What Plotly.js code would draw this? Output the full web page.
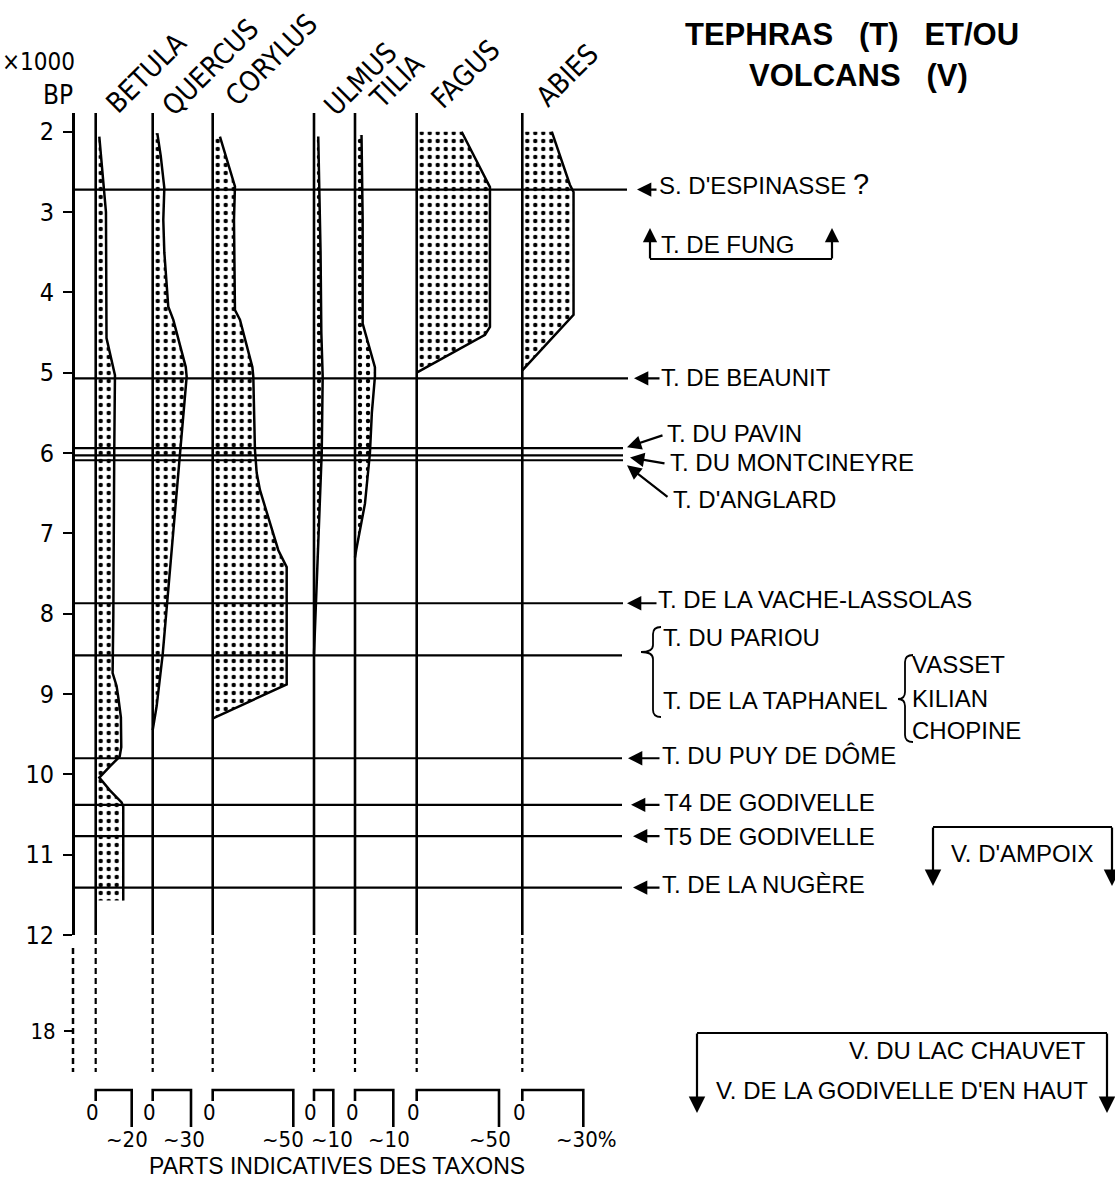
<!DOCTYPE html>
<html><head><meta charset="utf-8">
<script src="https://cdn.plot.ly/plotly-3.0.1.min.js"></script>
<style>html,body{margin:0;padding:0;background:#fff}</style>
</head><body><div id="chart" style="width:1115px;height:1188px"></div>
<script>
// ---------------- DATA ----------------
const ageTicks = [2, 3, 4, 5, 6, 7, 8, 9, 10, 11, 12];
const breakTick = [18];
const taxa = ['BETULA', 'QUERCUS', 'CORYLUS', 'ULMUS', 'TILIA', 'FAGUS', 'ABIES'];
const scaleMax = [20, 30, 50, 10, 10, 50, 30];
const scaleLabels = ['~20', '~30', '~50', '~10', '~10', '~50', '~30%'];

const betulaAge = [2.06, 2.7, 3.0, 4.57, 5.03, 6.0, 7.0, 8.0, 8.74, 8.9, 9.05, 9.29, 9.66, 9.78, 9.9, 10.04, 10.2, 10.35, 10.4, 11.57];
const betulaPct = [2.0, 4.8, 5.7, 6.0, 10.7, 10.3, 10.2, 9.8, 9.4, 11.6, 12.6, 14.0, 14.2, 13.3, 7.9, 2.0, 7.9, 14.4, 15.3, 15.3];

const quercusAge = [2.02, 2.3, 2.7, 3.1, 3.5, 3.93, 4.18, 4.34, 4.76, 4.93, 5.05, 5.38, 6.0, 6.42, 7.08, 7.87, 8.51, 9.15, 9.45];
const quercusPct = [3.6, 6.3, 9.1, 8.3, 9.1, 11.0, 12.2, 16.1, 23.5, 25.9, 26.6, 24.8, 21.4, 18.8, 15.3, 11.4, 7.8, 3.1, 0];

const corylusAge = [2.06, 2.68, 3.1, 4.22, 4.34, 4.93, 5.05, 5.96, 6.25, 6.46, 7.21, 7.42, 8.88, 9.3];
const corylusPct = [4.5, 13.8, 13.2, 13.8, 16.9, 24.6, 25.2, 26.2, 27.3, 29.3, 40.7, 45.9, 45.9, 0.5];

const ulmusAge = [2.06, 2.7, 3.5, 4.5, 5.05, 6.0, 7.1, 7.9, 8.5];
const ulmusPct = [2.2, 2.8, 3.4, 3.8, 4.5, 4.0, 2.4, 1.0, 0];

const tiliaAge = [2.04, 3.1, 4.39, 4.93, 5.05, 5.5, 6.0, 6.63, 7.21, 7.3];
const tiliaPct = [1.7, 2.0, 2.0, 5.2, 5.2, 4.4, 3.9, 2.6, 0.3, 0];

const fagusAge = [2.0, 2.69, 4.43, 4.53, 5.0];
const fagusPct = [27.3, 44.5, 44.5, 41.5, 0];

const abiesAge = [2.0, 2.66, 2.75, 4.28, 4.97];
const abiesPct = [14.5, 23.4, 25.2, 25.2, 0];

const tephraNames = ["S. D'ESPINASSE", 'T. DE BEAUNIT', 'T. DU PAVIN', 'T. DU MONTCINEYRE', "T. D'ANGLARD",
  'T. DE LA VACHE-LASSOLAS', 'T. DU PARIOU', 'T. DU PUY DE DÔME', 'T4 DE GODIVELLE', 'T5 DE GODIVELLE', 'T. DE LA NUGÈRE'];
const tephraAges = [2.72, 5.07, 5.94, 6.03, 6.09, 7.87, 8.52, 9.80, 10.38, 10.77, 11.41];
const taphanelName = 'T. DE LA TAPHANEL';
const taphanelSources = ['VASSET', 'KILIAN', 'CHOPINE'];
const fungName = 'T. DE FUNG';
const volcanoNames = ["V. D'AMPOIX", 'V. DU LAC CHAUVET', "V. DE LA GODIVELLE D'EN HAUT"];
const titleLines = ['TEPHRAS\u00a0\u00a0\u00a0(T)\u00a0\u00a0\u00a0ET/OU', 'VOLCANS\u00a0\u00a0\u00a0(V)'];
const yUnitLabels = ['×1000', 'BP'];
const xAxisTitle = 'PARTS INDICATIVES DES TAXONS';

const series = [
  [betulaAge, betulaPct], [quercusAge, quercusPct], [corylusAge, corylusPct],
  [ulmusAge, ulmusPct], [tiliaAge, tiliaPct], [fagusAge, fagusPct], [abiesAge, abiesPct]
];

// ---------------- LAYOUT GEOMETRY ----------------
const W = 1115, H = 1188;
const px = x => x / W;
const py = y => 1 - y / H;
const baseX = [95.7, 152.7, 212.7, 314, 355, 416.7, 522.3];
const endX = [131.7, 191, 293.3, 333.3, 393.3, 499, 583.3];
const labelShift = [-27, -29, -32, -23, -26, -31, -28];
const PAD = 7;
const yAxisX = 73;
const yTopPx = 113, yBotPx = 935;
const yTopVal = 2 - (131.7 - yTopPx) / 80.33;
const y2TopPx = 937, y2BotPx = 1075;
const y2Top = 12.2, y2Bot = 20.715;
const dashTaxa = [12.26, 20.53];
const dashAxis = [12.88, 20.53];

const FD = "'DejaVu Sans Condensed','DejaVu Sans',sans-serif";
const FL = "'Liberation Sans',Arial,sans-serif";

const layout = {
  width: W, height: H,
  margin: {l: 0, r: 0, t: 0, b: 0},
  paper_bgcolor: 'white', plot_bgcolor: 'rgba(0,0,0,0)',
  showlegend: false,
  yaxis: {
    domain: [py(yBotPx), py(yTopPx)], range: [12, yTopVal],
    anchor: 'free', position: px(yAxisX), side: 'left',
    showline: true, linecolor: 'black', linewidth: 2.5,
    ticks: 'outside', ticklen: 9, tickwidth: 2.2, tickcolor: 'black',
    tickvals: ageTicks, ticktext: ageTicks.map(String),
    tickfont: {family: FD, size: 25, color: 'black'},
    ticklabelstandoff: 4,
    showgrid: false, zeroline: false
  },
  yaxis2: {
    domain: [py(y2BotPx), py(y2TopPx)], range: [y2Bot, y2Top],
    anchor: 'free', position: px(yAxisX), side: 'left',
    showline: false,
    ticks: 'outside', ticklen: 9, tickwidth: 2.2, tickcolor: 'black',
    tickvals: breakTick, ticktext: breakTick.map(String),
    tickfont: {family: FD, size: 22, color: 'black'},
    ticklabelstandoff: 4,
    showgrid: false, zeroline: false
  },
  shapes: [], annotations: []
};

function ann(o) {
  layout.annotations.push(Object.assign({xanchor: 'center', yanchor: 'middle', showarrow: false, borderpad: 0}, o));
}

const traces = [];
const axRef = i => (i === 0 ? 'x' : 'x' + (i + 1));
const axName = i => (i === 0 ? 'xaxis' : 'xaxis' + (i + 1));

taxa.forEach((name, i) => {
  const k = (endX[i] - baseX[i]) / scaleMax[i];
  layout[axName(i)] = {
    domain: [px(baseX[i] - PAD), px(endX[i] + PAD)],
    range: [-PAD / k, scaleMax[i] + PAD / k],
    anchor: 'y', visible: false, fixedrange: true
  };
  const [ages, vals] = series[i];
  traces.push({
    type: 'scatter', mode: 'lines', xaxis: axRef(i), yaxis: 'y',
    x: [0, ...vals, 0], y: [ages[0], ...ages, ages[ages.length - 1]],
    fill: 'toself', fillcolor: 'white',
    fillpattern: {shape: '.', size: 8, solidity: 0.24, fgcolor: 'black', bgcolor: 'white', fgopacity: 1},
    line: {color: 'rgba(0,0,0,0)', width: 0}, hoverinfo: 'skip'
  });
  traces.push({
    type: 'scatter', mode: 'lines', xaxis: axRef(i), yaxis: 'y',
    x: vals, y: ages, line: {color: 'black', width: 2.5}, hoverinfo: 'skip'
  });
  traces.push({
    type: 'scatter', mode: 'lines', xaxis: axRef(i), yaxis: 'y2',
    x: [0, 0], y: dashTaxa, line: {color: 'black', width: 2.2, dash: '6px,4px'}, hoverinfo: 'skip'
  });
  layout.shapes.push({type: 'line', xref: axRef(i), yref: 'y', x0: 0, x1: 0, y0: yTopVal, y1: 12,
    line: {color: 'black', width: 2.6}});
  const yb0 = py(1101), yb1 = py(1090), yb2 = py(1127);
  layout.shapes.push({type: 'path', xref: axRef(i), yref: 'paper',
    path: `M 0,${yb0} L 0,${yb1} L ${scaleMax[i]},${yb1} L ${scaleMax[i]},${yb2}`,
    line: {color: 'black', width: 2.6}});
  ann({xref: axRef(i), yref: 'paper', x: 0, y: py(1112), xshift: -3,
    text: '0', font: {family: FD, size: 22, color: 'black'}});
  ann({xref: axRef(i), yref: 'paper', x: scaleMax[i], y: py(1139), xanchor: 'left', xshift: labelShift[i],
    text: scaleLabels[i], font: {family: FD, size: 22, color: 'black'}});
});

const taxonCenters = [[147, 73], [210, 67], [272, 60], [360, 79], [397, 82], [465, 74], [567, 75]];
taxa.forEach((name, i) => {
  ann({xref: 'paper', yref: 'paper', x: px(taxonCenters[i][0]), y: py(taxonCenters[i][1]),
    text: name, textangle: -45, font: {family: FD, size: 28, color: 'black'}});
});

layout.shapes.push({type: 'line', xref: 'paper', yref: 'y2', x0: px(yAxisX), x1: px(yAxisX), y0: dashAxis[0], y1: dashAxis[1],
  line: {color: 'black', width: 2.5, dash: '6px,4px'}});

ann({xref: 'paper', yref: 'paper', x: px(76), y: py(62), xanchor: 'right', text: yUnitLabels[0],
  font: {family: FD, size: 24, color: 'black'}});
ann({xref: 'paper', yref: 'paper', x: px(74), y: py(95), xanchor: 'right', text: yUnitLabels[1],
  font: {family: FD, size: 26, color: 'black'}});

ann({xref: 'paper', yref: 'paper', x: px(337), y: py(1166), text: xAxisTitle,
  font: {family: FL, size: 23, color: 'black'}});

ann({xref: 'paper', yref: 'paper', x: px(852), y: py(35), text: '<b>' + titleLines[0] + '</b>',
  font: {family: FL, size: 31, color: 'black'}});
ann({xref: 'paper', yref: 'paper', x: px(858), y: py(75), text: '<b>' + titleLines[1] + '</b>',
  font: {family: FL, size: 31, color: 'black'}});

const tephraStyle = [
  {end: 627, head: 637, ax: 20, ay: 0, hdy: 0, tx: 658, tdy: 6, extra: ' <span style="font-size:29px">?</span>'},
  {end: 628, head: 634, ax: 26, ay: 0, hdy: 0, tx: 660, tdy: 1},
  {end: 623, head: 627, ax: 36, ay: -12, hdy: 1, tx: 666, tdy: 15},
  {end: 623, head: 630, ax: 35, ay: 6, hdy: -2, tx: 669, tdy: -7},
  {end: 623, head: 627, ax: 41, ay: 32, hdy: -5, tx: 672, tdy: -39},
  {end: 623, head: 627, ax: 30, ay: 0, hdy: 0, tx: 657, tdy: 4},
  {end: 622, head: null, tx: 662, tdy: 18},
  {end: 622, head: 628, ax: 32, ay: 0, hdy: 0, tx: 661, tdy: 3},
  {end: 622, head: 631, ax: 29, ay: 0, hdy: 0, tx: 663, tdy: 2},
  {end: 622, head: 633, ax: 27, ay: 0, hdy: 0, tx: 663, tdy: 0},
  {end: 622, head: 633, ax: 27, ay: 0, hdy: 0, tx: 661, tdy: 3}
];
const LF = {family: FL, size: 24, color: 'black'};
tephraAges.forEach((age, i) => {
  const s = tephraStyle[i];
  layout.shapes.push({type: 'line', xref: 'paper', yref: 'y', x0: px(yAxisX), x1: px(s.end), y0: age, y1: age,
    line: {color: 'black', width: 2.2}});
  if (s.head !== null) {
    ann({xref: 'paper', yref: 'y', x: px(s.head), y: age, yshift: s.hdy,
      ax: s.ax, ay: s.ay, axref: 'pixel', ayref: 'pixel', text: '', showarrow: true,
      arrowhead: 2, arrowsize: 1.3, arrowwidth: 2.2, arrowcolor: 'black', standoff: 0, startstandoff: 0});
  }
  ann({xref: 'paper', yref: 'y', x: px(s.tx), y: age, yshift: s.tdy, xanchor: 'left',
    text: tephraNames[i] + (s.extra || ''), font: LF});
});

ann({xref: 'paper', yref: 'paper', x: px(662), y: py(700), xanchor: 'left', text: taphanelName, font: LF});
const subY = [664, 698, 731];
taphanelSources.forEach((n, i) => {
  ann({xref: 'paper', yref: 'paper', x: px(911), y: py(subY[i]), xanchor: 'left', text: n, font: LF});
});
function bracePath(xR, xM, xL, yT, yTip, yB, r) {
  const P = (x, y) => `${px(x)},${py(y)}`;
  return `M ${P(xR, yT)} Q ${P(xM, yT)} ${P(xM, yT + r)} L ${P(xM, yTip - r)} Q ${P(xM, yTip)} ${P(xL, yTip)} ` +
    `Q ${P(xM, yTip)} ${P(xM, yTip + r)} L ${P(xM, yB - r)} Q ${P(xM, yB)} ${P(xR, yB)}`;
}
layout.shapes.push({type: 'path', xref: 'paper', yref: 'paper', path: bracePath(661, 653, 641, 627, 652, 717, 7),
  line: {color: 'black', width: 1.8}});
layout.shapes.push({type: 'path', xref: 'paper', yref: 'paper', path: bracePath(913, 905, 898, 655, 699, 742, 7),
  line: {color: 'black', width: 1.8}});

function bracket(x0, x1, yLine, yHead, width, size) {
  layout.shapes.push({type: 'line', xref: 'paper', yref: 'paper', x0: px(x0), x1: px(x1), y0: py(yLine), y1: py(yLine),
    line: {color: 'black', width: width}});
  [x0, x1].forEach(x => {
    ann({xref: 'paper', yref: 'paper', x: px(x), y: py(yHead), ax: 0, ay: yLine - yHead,
      axref: 'pixel', ayref: 'pixel', text: '', showarrow: true, arrowhead: 2, arrowsize: size,
      arrowwidth: width, arrowcolor: 'black', standoff: 0, startstandoff: 0});
  });
}
bracket(650, 832, 259, 228, 2.2, 1.3);
ann({xref: 'paper', yref: 'paper', x: px(660), y: py(244), xanchor: 'left', text: fungName, font: LF});
bracket(933, 1112, 827, 886, 2.2, 1.5);
ann({xref: 'paper', yref: 'paper', x: px(950), y: py(853), xanchor: 'left', text: volcanoNames[0], font: LF});
bracket(697, 1107, 1033, 1113, 2.2, 1.5);
ann({xref: 'paper', yref: 'paper', x: px(1087), y: py(1050), xanchor: 'right', text: volcanoNames[1], font: LF});
ann({xref: 'paper', yref: 'paper', x: px(1089), y: py(1090), xanchor: 'right', text: volcanoNames[2], font: LF});

Plotly.newPlot('chart', traces, layout, {staticPlot: true, displayModeBar: false});
</script>
</body></html>
